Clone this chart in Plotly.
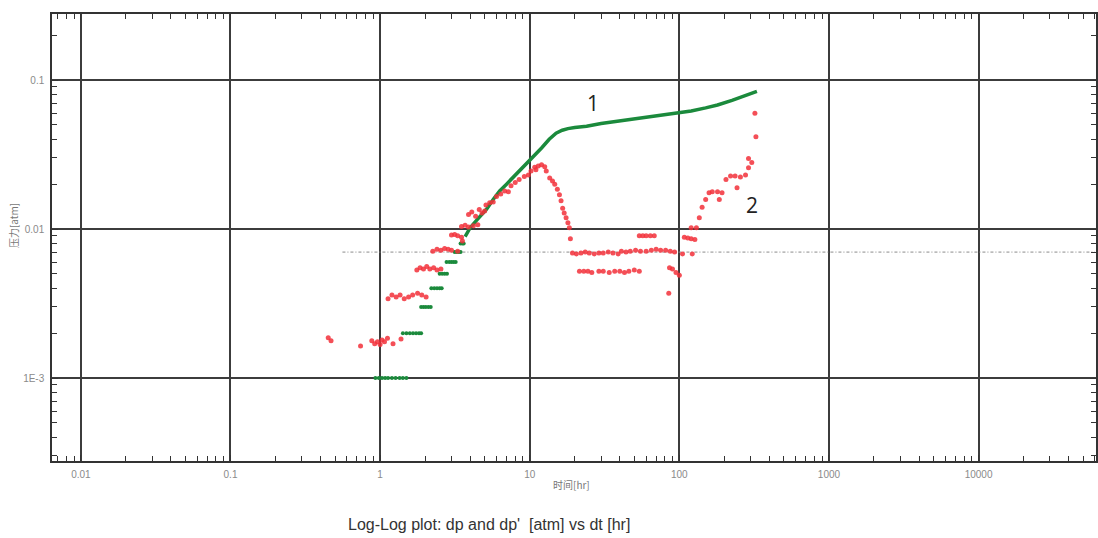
import plotly.graph_objects as go

# ---- data ----
# dp (green) - quantised early-time steps
dp_step_t = [0.93, 0.98, 1.03, 1.08, 1.13, 1.2, 1.27, 1.35, 1.42, 1.5,
             1.42, 1.5, 1.58, 1.66, 1.74, 1.82, 1.88,
             1.88, 1.95, 2.02, 2.1, 2.18,
             2.2, 2.3, 2.4, 2.5, 2.58,
             2.5, 2.6, 2.7, 2.8,
             2.78, 2.9, 3.0, 3.1, 3.2,
             3.15, 3.25, 3.35, 3.45,
             3.45, 3.55, 3.62]
dp_step_p = [0.001] * 10 + [0.002] * 7 + [0.003] * 5 + [0.004] * 5 + [0.005] * 4 + \
            [0.006] * 5 + [0.007] * 4 + [0.008] * 3

# dp (green) - continuous part
dp_t = [3.7, 4.0, 4.5, 5.15, 5.7, 6.3, 7.0, 8.0, 9.0, 10.5, 12.0, 13.5, 15.0, 16.5,
        18, 20, 24, 30, 40, 50, 66, 80, 100, 120, 150, 180, 225, 270, 330]
dp_p = [0.0089, 0.0102, 0.0117, 0.0136, 0.0158, 0.018, 0.020, 0.023, 0.026, 0.030,
        0.035, 0.040, 0.044, 0.046, 0.0472, 0.048, 0.049, 0.051, 0.053, 0.055,
        0.057, 0.0585, 0.060, 0.062, 0.065, 0.068, 0.073, 0.078, 0.084]

# dp' (red) derivative points
der_t = [0.45, 0.47, 0.74, 0.88, 0.92, 0.96, 1.0, 1.03, 1.07, 1.12, 1.22, 1.38,
         1.13, 1.2, 1.28, 1.36, 1.45, 1.55, 1.65, 1.78, 1.9, 2.03,
         1.76, 1.85, 1.95, 2.05, 2.15, 2.28, 2.4, 2.55,
         2.25, 2.4, 2.55, 2.7, 2.85, 3.0, 3.3,
         3.0, 3.15, 3.3, 3.5, 3.55,
         3.5, 3.7, 3.9, 4.2, 4.5,
         3.9, 4.1, 4.35, 4.6, 4.8, 5.0,
         5.1, 5.4, 5.7,
         6.0, 6.4, 6.8, 7.2,
         7.5, 8.0, 8.5, 9.2, 9.8,
         10.2, 10.8, 11.4, 12.0, 12.6, 11.0,
         12.9, 13.6, 14.2, 14.7, 15.3, 15.8, 16.2, 16.6, 17.0, 17.5, 18.0, 18.4, 18.7,
         19.3, 20.5, 22, 23.5, 25, 27, 29, 31, 33.5, 36, 39,
         21.5, 23, 24.5, 26, 29, 31, 34, 37, 40, 43, 46, 50, 54,
         41, 44, 47, 51, 55, 60, 65, 70, 75, 81, 87, 93,
         54, 57, 60, 64, 68,
         86, 90, 95, 100, 85,
         105, 122,
         108, 114, 120, 127,
         120, 130, 136, 142, 150, 158, 166, 180, 193, 185,
         205, 220, 236, 256, 277, 243, 290, 290, 305, 325, 320]
der_p = [0.00186, 0.00178, 0.00164, 0.00178, 0.0017, 0.00175, 0.00168, 0.0018, 0.00175, 0.00185, 0.0017, 0.00183,
         0.0034, 0.0036, 0.0035, 0.0036, 0.0034, 0.0035, 0.0036, 0.0037, 0.0036, 0.0035,
         0.0053, 0.0055, 0.0054, 0.0056, 0.0054, 0.0055, 0.0053, 0.0054,
         0.0071, 0.0073, 0.0072, 0.0074, 0.0073, 0.0072, 0.0071,
         0.0091, 0.0092, 0.009, 0.0088, 0.0083,
         0.0104, 0.0106, 0.0103, 0.0105, 0.0107,
         0.0125, 0.013, 0.0122, 0.0135, 0.0128, 0.0132,
         0.0145, 0.015, 0.0152,
         0.0165, 0.0172, 0.018, 0.0178,
         0.0195, 0.0205, 0.0215, 0.0225, 0.023,
         0.0245, 0.026, 0.0265, 0.027, 0.0262, 0.025,
         0.0245, 0.022, 0.021, 0.020, 0.0185, 0.017, 0.0155, 0.0138, 0.0128, 0.0119, 0.011, 0.0102, 0.0086,
         0.0069, 0.0068, 0.0069, 0.007, 0.0069, 0.0068, 0.0069, 0.0069, 0.007, 0.0069, 0.0068,
         0.0052, 0.0052, 0.0052, 0.0051, 0.0052, 0.0052, 0.0051, 0.0052, 0.0052, 0.0051, 0.0052, 0.0053, 0.0052,
         0.0071, 0.0070, 0.0071, 0.0072, 0.0071, 0.0071, 0.0072, 0.0073, 0.0072, 0.0072, 0.0071, 0.0070,
         0.009, 0.009, 0.009, 0.009, 0.009,
         0.0055, 0.0054, 0.0051, 0.0049, 0.0037,
         0.0068, 0.0068,
         0.0088, 0.0087, 0.0086, 0.0085,
         0.0102, 0.0102, 0.0119, 0.014, 0.0158, 0.0175, 0.0178, 0.0178, 0.0175, 0.0158,
         0.0215, 0.0227, 0.0227, 0.0223, 0.023, 0.0189, 0.0258, 0.0297, 0.028, 0.0416, 0.0598]

# horizontal dotted reference line
ref_t = [0.56, 60000]
ref_p = [0.007, 0.007]

x_tickvals = [0.01, 0.1, 1, 10, 100, 1000, 10000]
x_ticktext = ["0.01", "0.1", "1", "10", "100", "1000", "10000"]
y_tickvals = [0.001, 0.01, 0.1]
y_ticktext = ["1E-3", "0.01", "0.1"]

GREEN = "#1b8a3c"
RED = "#f2303a"

fig = go.Figure()
fig.add_trace(go.Scatter(x=ref_t, y=ref_p, mode="lines",
                         line=dict(color="#8a8a8a", width=1, dash="3px,2px,1px,2px"),
                         hoverinfo="skip", showlegend=False))
fig.add_trace(go.Scatter(x=dp_step_t, y=dp_step_p, mode="markers",
                         marker=dict(symbol="circle", size=4, color=GREEN),
                         showlegend=False))
fig.add_trace(go.Scatter(x=dp_t, y=dp_p, mode="lines",
                         line=dict(color=GREEN, width=3.5),
                         showlegend=False))
fig.add_trace(go.Scatter(x=der_t, y=der_p, mode="markers",
                         marker=dict(symbol="circle", size=5, color=RED, opacity=0.85),
                         showlegend=False))

axis_common = dict(
    type="log", showline=True, linecolor="#333", linewidth=1.5, mirror="ticks",
    showgrid=True, gridcolor="#3c3c3c", gridwidth=1.6,
    ticks="inside", ticklen=6, tickcolor="#333", tickwidth=1,
    tickfont=dict(family="Liberation Sans, Arial", size=10, color="#8a8a8a"),
    zeroline=False,
    minor=dict(ticks="inside", ticklen=5, tickcolor="#333", tickwidth=1,
               showgrid=False, dtick="D1"),
)

fig.update_xaxes(**axis_common, range=[-2.193, 4.785],
                 tickvals=x_tickvals, ticktext=x_ticktext, ticklabelstandoff=3)
fig.update_yaxes(**axis_common, range=[-3.557, -0.557],
                 tickvals=y_tickvals, ticktext=y_ticktext, ticklabelstandoff=4)

fig.add_annotation(text="1", x=1.42, y=-1.154, xref="x", yref="y", showarrow=False,
                   font=dict(family="Open Sans, Liberation Sans", size=21, color="#222"))
fig.add_annotation(text="2", x=2.487, y=-1.839, xref="x", yref="y", showarrow=False,
                   font=dict(family="Open Sans, Liberation Sans", size=21, color="#222"))
fig.add_annotation(text="时间[hr]", x=(572 - 52) / 1046, y=-(485 - 461) / 447,
                   xref="paper", yref="paper", showarrow=False,
                   xanchor="center", yanchor="middle",
                   font=dict(family="Noto Sans CJK SC, Liberation Sans", size=10, color="#777"))
fig.add_annotation(text="压力[atm]", x=(14 - 52) / 1046, y=(461 - 226) / 447,
                   xref="paper", yref="paper", showarrow=False, textangle=-90,
                   xanchor="center", yanchor="middle",
                   font=dict(family="Noto Sans CJK SC, Liberation Sans", size=10, color="#777"))
fig.add_annotation(text="Log-Log plot: dp and dp'  [atm] vs dt [hr]",
                   x=(490 - 52) / 1046, y=-(524 - 461) / 447,
                   xref="paper", yref="paper", showarrow=False,
                   xanchor="center", yanchor="middle",
                   font=dict(family="Liberation Sans, Arial", size=16, color="#333"))

fig.update_layout(width=1098, height=538,
                  margin=dict(l=52, r=0, t=14, b=77),
                  paper_bgcolor="white", plot_bgcolor="white")

fig.write_html("out.html", config={"displayModeBar": False},
               post_script="document.body.style.margin='0';document.body.style.overflow='hidden';")
